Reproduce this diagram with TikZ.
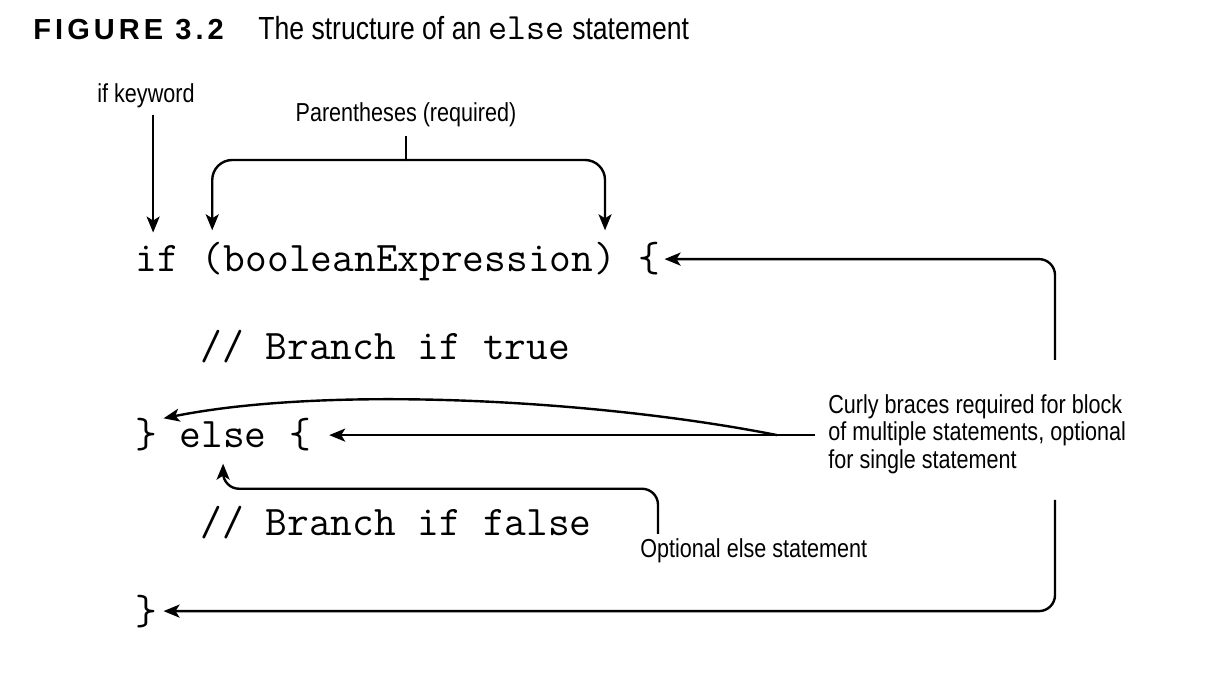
\documentclass[tikz,border=0pt]{standalone}
\usepackage{fontspec}
\setmainfont{Liberation Sans}
\newfontfamily\condfont{Liberation Sans}[FakeStretch=0.83]
\newfontfamily\figfont{Liberation Sans}[LetterSpace=14]
\usetikzlibrary{arrows.meta, positioning, calc}
\newcommand{\chw}{10.85pt}

\begin{document}
\begin{tikzpicture}[
    x=0.5pt, y=-0.5pt,
    code/.style={font=\fontsize{21.1}{24}\selectfont\ttfamily, inner sep=0pt, anchor=base west},
    lbl/.style={font=\condfont\fontsize{13}{13.75}\selectfont, inner sep=0pt, align=left},
    arr/.style={line width=1.2pt, -{Stealth[length=8pt, width=6.5pt, inset=2pt]}},
    elbow/.style={arr, rounded corners=8pt}
]
    \useasboundingbox (0,0) rectangle (1224,688);

    \node[anchor=base west, inner sep=0pt, font=\figfont\bfseries\fontsize{14.5}{16}\selectfont] (fig) at (33,40) {FIGURE 3.2};
    \node[anchor=base west, inner sep=0pt, font=\condfont\fontsize{16}{18}\selectfont] (cap) at (258,40) {The structure of an {\ttfamily\fontsize{18.5}{18}\selectfont else} statement};

    \node[code] (kwif) at (135,272) {if};
    \node[code, base right=\chw of kwif] (lp) {(};
    \node[code, base right=0pt of lp] (expr) {booleanExpression};
    \node[code, base right=0pt of expr] (rp) {)};
    \node[code, base right=\chw of rp] (open1) {\{};
    \node[code] (cmt1) at (200.1,360) {// Branch if true};
    \node[code] (close1) at (135,448) {\}};
    \node[code, base right=\chw of close1] (elsekw) {else};
    \node[code, base right=\chw of elsekw] (open2) {\{};
    \node[code] (cmt2) at (200.1,536) {// Branch if false};
    \node[code] (close2) at (135,624) {\}};

    \node[lbl] (kwlab) at (146,96) {if keyword};
    \node[lbl] (parlab) at (406,115) {Parentheses (required)};
    \node[lbl, anchor=west] (curly) at (828,434) {Curly braces required for block\\of multiple statements, optional\\for single statement};
    \node[lbl, anchor=base west] (optl) at (640,558) {Optional else statement};

    \coordinate (pj) at (406,160);
    \coordinate (rtop) at (1055,360);
    \coordinate (rbot) at (1055,500);
    \coordinate (cs) at (815,0 |- open2.east);
    \coordinate (cf) at (777,0 |- open2.east);
    \coordinate (os) at ($(optl.north west)+(18,-5)$);
    \coordinate (ift) at ([xshift=-2pt]kwif.north);

    \draw[arr, shorten <=3pt, shorten >=6.5pt] (kwlab.south -| ift) -- (ift);
    \draw[line width=1.2pt, shorten <=4pt] (parlab.south) -- (pj);
    \draw[arr, rounded corners=10pt, shorten >=6pt] (pj) -| (lp.north);
    \draw[arr, rounded corners=10pt, shorten >=6pt] (pj) -| (rp.north);
    \draw[elbow, shorten >=2pt] (rtop) |- (open1.east);
    \draw[elbow, shorten >=3pt] (rbot) |- (close2.east);
    \draw[arr, shorten >=9pt] (cs) -- (open2.east);
    \draw[arr] (cf) .. controls (600,400) and (330,385) .. ([xshift=3pt]close1.north east);
    \draw[elbow, shorten >=7.5pt] (os) -- ++(0,-45) -| (elsekw.south);
\end{tikzpicture}
\end{document}
